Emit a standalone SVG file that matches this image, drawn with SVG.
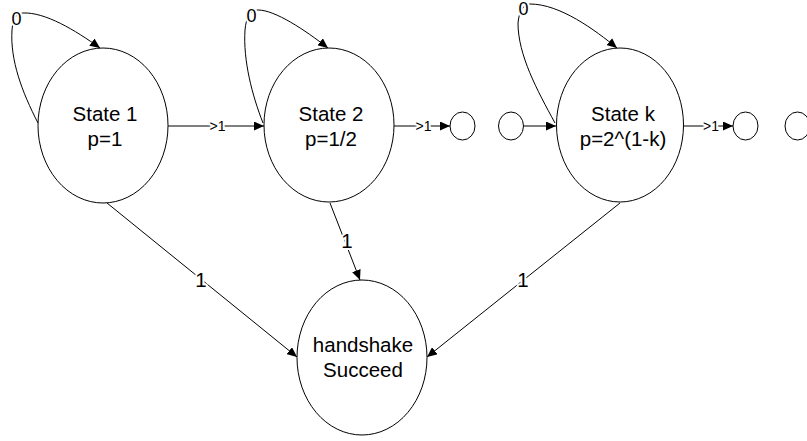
<svg xmlns="http://www.w3.org/2000/svg" width="807" height="441" viewBox="0 0 807 441">
<defs>
<marker id="arr" markerUnits="userSpaceOnUse" markerWidth="10" markerHeight="9" refX="10" refY="4.5" orient="auto">
<path d="M0,0 L10,4.5 L0,9 z" fill="#000"/>
</marker>
<style>
.node{fill:#fff;stroke:#000;stroke-width:1}
.edge{fill:none;stroke:#000;stroke-width:1;marker-end:url(#arr)}
.t{font-family:"Liberation Sans",Arial,sans-serif;font-size:20.5px;text-anchor:middle;fill:#000}
.lbl{font-family:"Liberation Sans",Arial,sans-serif;text-anchor:middle;fill:#000;stroke:#fff;stroke-width:4;paint-order:stroke;stroke-linejoin:round}
.big{font-size:20.5px}
.zero{font-size:18px}
.sm{font-size:14px}
</style>
</defs>
<rect width="807" height="441" fill="#fff"/>
<g id="connectors">
<path class="edge" d="M38,123 C22,92 10,60 12,30 C13,18 16,13 23,13 C45,12 75,30 100,48"/>
<path class="edge" d="M263,123 C252,95 243,60 245,30 C246,18 250,10 258,10 C275,10 305,30 328,48"/>
<path class="edge" d="M555,123 C537,90 518,55 518,23 C519,12 523,4 530,4 C560,4 595,30 617,48"/>
<path class="edge" d="M168,126 L264,126"/>
<path class="edge" d="M394,126 L450,126"/>
<path class="edge" d="M523.5,126 L556,126"/>
<path class="edge" d="M683,126 L733,126"/>
<path class="edge" d="M107,203 L297,357"/>
<path class="edge" d="M330,203 L360,280"/>
<path class="edge" d="M620,203 L427,357"/>
<text class="lbl zero" x="16.5" y="25">0</text>
<text class="lbl zero" x="251.5" y="22">0</text>
<text class="lbl zero" x="523.5" y="15">0</text>
<text class="lbl sm" x="217.5" y="131">&gt;1</text>
<text class="lbl sm" x="423.5" y="131">&gt;1</text>
<text class="lbl sm" x="711" y="131">&gt;1</text>
<text class="lbl big" x="201" y="287">1</text>
<text class="lbl big" x="347" y="248">1</text>
<text class="lbl big" x="523" y="287">1</text>
</g>
<g id="state1">
<ellipse class="node" cx="103" cy="125.5" rx="65" ry="77.5"/>
<text class="t" x="105" y="121">State 1</text>
<text class="t" x="105" y="146">p=1</text>
</g>
<g id="state2">
<ellipse class="node" cx="329" cy="125" rx="65" ry="77"/>
<text class="t" x="331" y="121">State 2</text>
<text class="t" x="331" y="146">p=1/2</text>
</g>
<g id="dots1">
<ellipse class="node" cx="462.5" cy="126" rx="12.5" ry="14"/>
</g>
<g id="dots2">
<ellipse class="node" cx="511" cy="126" rx="12.5" ry="14"/>
</g>
<g id="statek">
<ellipse class="node" cx="620" cy="125" rx="63.5" ry="77"/>
<text class="t" x="623" y="121">State k</text>
<text class="t" x="623" y="146">p=2^(1-k)</text>
</g>
<g id="dots3">
<ellipse class="node" cx="745.5" cy="126" rx="12.5" ry="14"/>
</g>
<g id="dots4">
<ellipse class="node" cx="797.5" cy="126" rx="12.5" ry="14"/>
</g>
<g id="handshake">
<ellipse class="node" cx="362" cy="357.5" rx="65" ry="77.5"/>
<text class="t" x="363" y="352">handshake</text>
<text class="t" x="363" y="377">Succeed</text>
</g>
</svg>
